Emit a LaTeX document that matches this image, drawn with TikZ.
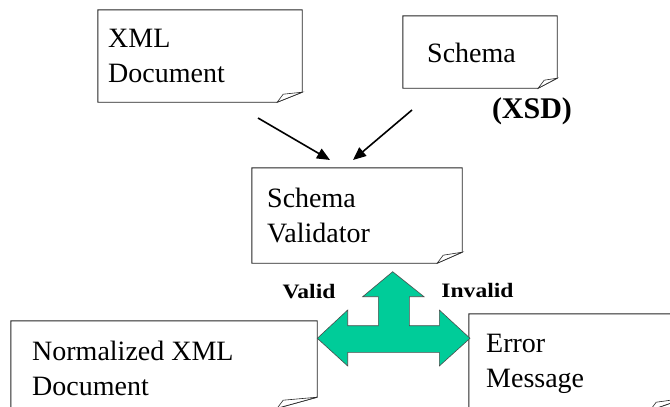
\documentclass[tikz,border=0pt]{standalone}
\usepackage{fontspec}
\setmainfont{Liberation Serif}
\newfontfamily\lblfont[FakeStretch=1.15]{Liberation Serif}
\usetikzlibrary{arrows.meta,calc}
\definecolor{sea}{RGB}{0,204,153}
\tikzset{
  docbox/.style={draw=none, inner sep=0pt, rectangle},
  docline/.style={draw=black!85, line width=0.9pt, fill=white, line join=miter},
  doctext/.style={anchor=base west, inner sep=0pt, font=\fontsize{28}{35}\selectfont},
  flow/.style={line width=1.6pt, -{Triangle[length=13pt,width=11pt]}},
  lbl/.style={anchor=base, inner sep=0pt, font=\lblfont\bfseries\fontsize{20.5}{24}\selectfont},
  bigarrow/.style={fill=sea, draw=black!70, line width=0.6pt, line join=miter},
}
% #1 node name, #2 cut width, #3 cut height
\newcommand\docoutline[3]{%
  \draw[docline] (#1.north west) -- (#1.north east) -- ([yshift=#3]#1.south east)
    -- ([xshift=-#2]#1.south east) -- (#1.south west) -- cycle;
  \draw[docline, line width=0.6pt] ([xshift=-#2]#1.south east)
    -- ([xshift=-#2+6pt, yshift=8pt]#1.south east) -- ([yshift=#3]#1.south east) -- cycle;
}
\newcommand\twolines[2]{\begin{tabular}[t]{@{}l@{}}#1\\#2\end{tabular}}
\begin{document}
\begin{tikzpicture}[x=1pt, y=-1pt]
  \useasboundingbox (0,0) rectangle (670,407);
  \clip (0,0) rectangle (670,407);

  % boxes
  \node[docbox, minimum width=204pt, minimum height=92pt] (xml) at (200,56) {};
  \node[docbox, minimum width=154pt, minimum height=72pt] (xsd) at (480,52) {};
  \node[docbox, minimum width=210pt, minimum height=95pt] (val) at (357,215.5) {};
  \node[docbox, minimum width=306pt, minimum height=87pt] (norm) at (164,364.5) {};
  \node[docbox, minimum width=216pt, minimum height=96pt] (err) at (577,362) {};

  \docoutline{xml}{25pt}{10pt}
  \docoutline{xsd}{19pt}{10pt}
  \docoutline{val}{25pt}{11pt}
  \docoutline{norm}{40pt}{11pt}
  \docoutline{err}{35pt}{12pt}

  % texts
  \node[doctext] (xmlt) at (108,47) {\twolines{XML}{Document}};
  \node[doctext] (xsdt) at (427,62) {Schema};
  \node[doctext] (valt) at (267,207) {\twolines{Schema}{Validator}};
  \node[doctext] (normt) at (32,360) {\twolines{Normalized XML}{Document}};
  \node[doctext] (errt) at (486,352) {\twolines{Error}{Message}};

  \node[anchor=base, inner sep=0pt, font=\bfseries\fontsize{30}{36}\selectfont] (xsdlbl) at (532,118) {(XSD)};

  % input arrows
  \coordinate (a1s) at (258,118);
  \coordinate (a1e) at (330,160);
  \coordinate (a2s) at (412,110);
  \coordinate (a2e) at (353,160);
  \draw[flow] (a1s) -- (a1e);
  \draw[flow] (a2s) -- (a2e);

  % three-way block arrow
  \draw[bigarrow] (392.7,271.7) -- (424,296.7) -- (409.3,296.7) -- (409.3,325.7)
    -- (439.3,325.7) -- (439.3,310) -- (470,338.3) -- (439.3,366) -- (439.3,352.3)
    -- (347.7,352.3) -- (347.7,366) -- (317.3,338.3) -- (347.7,310) -- (347.7,325.7)
    -- (378.3,325.7) -- (378.3,296.7) -- (362.7,296.7) -- cycle;

  \node[lbl] (validl) at (309,298) {Valid};
  \node[lbl] (invalidl) at (477.5,297) {Invalid};
\end{tikzpicture}
\end{document}
